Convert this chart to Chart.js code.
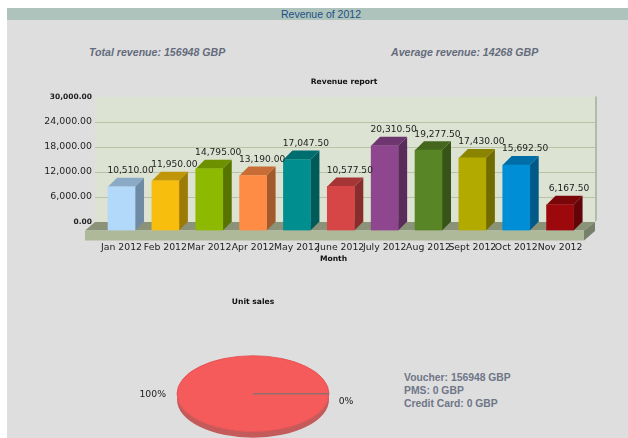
<!DOCTYPE html>
<html lang="en">
<head>
  <meta charset="UTF-8" />
  <title>Revenue of 2012</title>
  <script src="https://cdn.jsdelivr.net/npm/chart.js"></script>
  <style>
    html, body { margin: 0; padding: 0; width: 628px; height: 438px; overflow: hidden; background: #fff; }
    #panel { position: absolute; left: 7px; top: 8px; width: 621px; height: 430px; background: #dedede; }
    #band { position: absolute; left: 7px; top: 8px; width: 621px; height: 12px; line-height: 12px; background: #aec3bb; }
    .txt { position: absolute; font-family: "Liberation Sans", Arial, sans-serif; white-space: nowrap; }
    #head { left: 281px; top: 8px; font-size: 10.5px; line-height: 12px; color: #1d4f86; }
    .stat { top: 46px; font-size: 10.6px; line-height: 12px; font-weight: bold; font-style: italic; color: #646b7c; }
    #legend { left: 404px; top: 371px; font-size: 10.35px; line-height: 13px; font-weight: bold; color: #6f7688; }
    canvas { position: absolute; }
    #barChart { left: 30px; top: 72px; }
    #pieChart { left: 0; top: 296px; }
  </style>
</head>
<body>
  <div id="panel"></div>
  <div id="band"></div>
  <div id="head" class="txt">Revenue of 2012</div>
  <div class="txt stat" style="left:89px">Total revenue: 156948 GBP</div>
  <div class="txt stat" style="left:391px">Average revenue: 14268 GBP</div>
  <div id="legend" class="txt"></div>
  <canvas id="barChart" width="628" height="199"></canvas>
  <canvas id="pieChart" width="506" height="181"></canvas>

  <script>
    const months = ['Jan 2012', 'Feb 2012', 'Mar 2012', 'Apr 2012', 'May 2012', 'June 2012', 'July 2012', 'Aug 2012', 'Sept 2012', 'Oct 2012', 'Nov 2012'];
    const revenue = [10510, 11950, 14795, 13190, 17047.5, 10577.5, 20310.5, 19277.5, 17430, 15692.5, 6167.5];
    const barFront = ['#b2d9fa', '#f7be0e', '#8dba00', '#ff8c45', '#008e8e', '#d64646', '#8e468e', '#588526', '#b3aa00', '#008ed6', '#9d080d'];
    const barTop = ['#8aaac6', '#c09508', '#6d9000', '#c76d35', '#006e6e', '#a63636', '#6e366e', '#44671d', '#8b8400', '#006ea6', '#7a060a'];
    const barSide = ['#6f8aa3', '#9c7a06', '#587400', '#a2592b', '#005a5a', '#882c2c', '#5a2c5a', '#375418', '#716b00', '#005a88', '#630508'];
    const yTicks = [0, 6000, 12000, 18000, 24000, 30000];

    const payTypes = ['Voucher', 'PMS', 'Credit Card'];
    const payValues = [156948, 0, 0];
    const payLabels = ['100%', '0%'];

    document.getElementById('legend').innerHTML = payTypes.map((t, i) => t + ': ' + payValues[i] + ' GBP').join('<br>');

    const money = v => v.toLocaleString('en-US', { minimumFractionDigits: 2, maximumFractionDigits: 2 });
    const depth = 9;

    function poly(ctx, color, pts) {
      ctx.fillStyle = color;
      ctx.beginPath();
      pts.forEach((p, i) => i ? ctx.lineTo(p[0], p[1]) : ctx.moveTo(p[0], p[1]));
      ctx.closePath();
      ctx.fill();
    }

    // wall, floor and the extruded bar faces, the library only draws the front of the bars
    const box3d = {
      id: 'box3d',
      beforeDraw(chart) {
        const ctx = chart.ctx;
        const back = chart.scales.yBack;
        const top = back.getPixelForValue(30000), zero = back.getPixelForValue(0);
        const bottom = chart.scales.y.getPixelForValue(0);
        const l = 65, r = 565;
        ctx.save();
        ctx.fillStyle = '#dde3d3';
        ctx.fillRect(l, top, r - l, zero - top);
        poly(ctx, '#b4baa8', [[r, top], [r + 2, top - 1], [r + 2, zero - 2], [r, zero]]);
        ctx.strokeStyle = '#b8c3a5';
        ctx.lineWidth = 1.2;
        yTicks.slice(1, -1).forEach(t => {
          const y = Math.round(back.getPixelForValue(t)) + 0.5;
          ctx.beginPath();
          ctx.moveTo(l, y);
          ctx.lineTo(r, y);
          ctx.stroke();
        });
        poly(ctx, '#8a9378', [[l, zero], [r, zero], [r - 11, bottom], [l - 10, bottom]]);
        poly(ctx, '#aeb99a', [[l - 10, bottom], [r - 11, bottom], [r - 11, bottom + 10], [l - 10, bottom + 10]]);
        poly(ctx, '#76806a', [[r - 11, bottom], [r, zero], [r, zero + 9], [r - 11, bottom + 10]]);
        ctx.restore();
      },
      beforeDatasetsDraw(chart) {
        const ctx = chart.ctx;
        chart.getDatasetMeta(0).data.forEach((bar, i) => {
          const x2 = bar.x + bar.width / 2, x1 = bar.x - bar.width / 2;
          poly(ctx, barSide[i], [[x2, bar.y], [x2 + depth, bar.y - depth], [x2 + depth, bar.base - depth], [x2, bar.base]]);
          poly(ctx, barTop[i], [[x1, bar.y], [x1 + depth, bar.y - depth], [x2 + depth, bar.y - depth], [x2, bar.y]]);
        });
      },
      afterDatasetsDraw(chart) {
        const ctx = chart.ctx;
        ctx.save();
        ctx.fillStyle = '#222';
        ctx.font = '9.1px "DejaVu Sans"';
        ctx.textAlign = 'center';
        ctx.textBaseline = 'middle';
        chart.getDatasetMeta(0).data.forEach((bar, i) => {
          ctx.fillText(money(revenue[i]), bar.x + depth, bar.y - depth - 7);
        });
        ctx.font = 'bold 7.6px "DejaVu Sans"';
        ctx.fillStyle = '#111';
        // title and axis name sit off the plot centre, the library would centre them on the box
        ctx.fillText('Revenue report', 314, 9.7);
        ctx.fillText('Month', 303.5, 187.5);
        ctx.restore();
      }
    };

    new Chart(document.getElementById('barChart'), {
      type: 'bar',
      data: {
        labels: months,
        datasets: [{
          data: revenue,
          yAxisID: 'y',
          backgroundColor: barFront,
          barThickness: 27,
          borderWidth: 0
        }]
      },
      options: {
        responsive: false,
        animation: false,
        layout: { padding: { left: 0, right: 76, top: 25, bottom: 0 } },
        plugins: {
          legend: { display: false },
          tooltip: { enabled: false }
        },
        scales: {
          x: {
            grid: { display: false, drawTicks: false },
            border: { display: false },
            afterFit: s => { s.height = 40.5; },
            ticks: {
              autoSkip: false,
              maxRotation: 0,
              minRotation: 0,
              padding: 12,
              color: '#222',
              font: { family: 'DejaVu Sans', size: 9.3 }
            }
          },
          // front plane of the bars
          y: { display: false, min: 0, max: 32040 },
          // back wall, sits 8.5px higher than the front plane
          yBack: {
            position: 'left',
            min: -2040,
            max: 30000,
            grid: { display: false, drawTicks: false },
            border: { display: false },
            afterFit: s => { s.width = 69.6; },
            afterBuildTicks: s => { s.ticks = yTicks.map(v => ({ value: v })); },
            ticks: {
              padding: 7.6,
              color: '#222',
              callback: v => money(v),
              font: c => (c.tick && (c.tick.value === 0 || c.tick.value === 30000))
                ? { family: 'DejaVu Sans', size: 7.5, weight: 'bold' }
                : { family: 'DejaVu Sans', size: 9.4 }
            }
          }
        }
      },
      plugins: [box3d]
    });

    // squash the pie into an ellipse and give it a rim
    const squash = {
      id: 'squash',
      beforeDatasetsDraw(chart) {
        const ctx = chart.ctx;
        const arc = chart.getDatasetMeta(0).data[0];
        ctx.save();
        ctx.translate(0, arc.y);
        ctx.scale(1, 0.5);
        ctx.translate(0, -arc.y);
        ctx.fillStyle = '#c45a5a';
        ctx.beginPath();
        ctx.arc(arc.x, arc.y + 12, arc.outerRadius, 0, Math.PI);
        ctx.arc(arc.x, arc.y, arc.outerRadius, Math.PI, 0, true);
        ctx.closePath();
        ctx.fill();
      },
      afterDatasetsDraw(chart) {
        const ctx = chart.ctx;
        const els = chart.getDatasetMeta(0).data;
        const arc = els[0];
        ctx.strokeStyle = '#e04b4b';
        ctx.lineWidth = 1;
        ctx.beginPath();
        ctx.arc(arc.x, arc.y, arc.outerRadius, 0, Math.PI * 2);
        ctx.stroke();
        ctx.strokeStyle = '#8a7070';
        ctx.lineWidth = 2;
        els.forEach((el, i) => {
          if (payValues[i] !== 0) return;
          ctx.beginPath();
          ctx.moveTo(el.x, el.y);
          ctx.lineTo(el.x + el.outerRadius * Math.cos(el.startAngle), el.y + el.outerRadius * Math.sin(el.startAngle));
          ctx.stroke();
        });
        ctx.restore();
        ctx.save();
        ctx.fillStyle = '#222';
        ctx.font = '9.3px "DejaVu Sans"';
        ctx.textAlign = 'center';
        ctx.textBaseline = 'middle';
        ctx.fillText(payLabels[0], arc.x - arc.outerRadius - 24.3, arc.y + 0.5);
        ctx.fillText(payLabels[1], arc.x + arc.outerRadius + 17, arc.y + 8);
        ctx.restore();
      }
    };

    new Chart(document.getElementById('pieChart'), {
      type: 'pie',
      data: {
        labels: payTypes,
        datasets: [{
          data: payValues,
          backgroundColor: ['#f55b5b', '#8bba00', '#f6bd0f'],
          borderWidth: 0,
          radius: 76,
          rotation: 90,
          clip: false
        }]
      },
      options: {
        responsive: false,
        animation: false,
        plugins: {
          legend: { display: false },
          tooltip: { enabled: false },
          title: {
            display: true,
            text: 'Unit sales',
            color: '#111',
            font: { family: 'DejaVu Sans', size: 7.6, weight: 'bold', lineHeight: 1.2 },
            padding: { top: 1.5, bottom: 3.78 }
          }
        }
      },
      plugins: [squash]
    });
  </script>
</body>
</html>
